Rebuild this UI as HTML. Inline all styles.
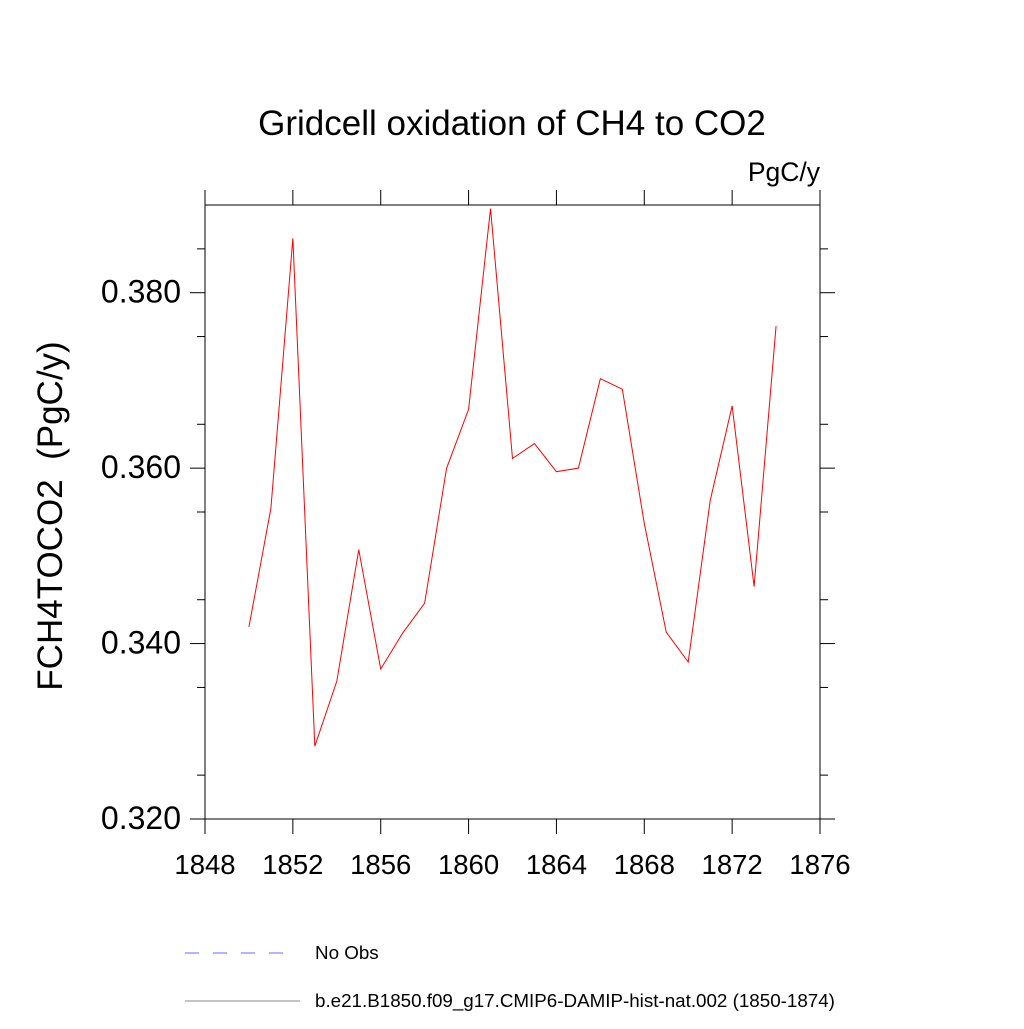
<!DOCTYPE html>
<html><head><meta charset="utf-8"><style>
body{margin:0;background:#fff}
svg text{font-family:"Liberation Sans",sans-serif;fill:#000}
</style></head><body>
<svg width="1024" height="1024" viewBox="0 0 1024 1024">
<text x="512" y="135" font-size="35" text-anchor="middle">Gridcell oxidation of CH4 to CO2</text>
<text x="820" y="181" font-size="26.5" text-anchor="end">PgC/y</text>
<text transform="translate(62,516) rotate(-90)" font-size="35" text-anchor="middle">FCH4TOCO2&#160;&#160;(PgC/y)</text>
<rect x="205" y="205" width="615" height="614" fill="none" stroke="#000" stroke-width="1"/>
<g id="axes"></g>
<polyline id="series" fill="none" stroke="#ff0000" stroke-width="1"/>
<line x1="185" y1="953" x2="292" y2="953" stroke="#6b6bff" stroke-dasharray="14,14"/>
<text x="315" y="959" font-size="18.8">No Obs</text>
<line x1="185" y1="1001" x2="300" y2="1001" stroke="#888"/>
<text x="315" y="1007" font-size="18.8">b.e21.B1850.f09_g17.CMIP6-DAMIP-hist-nat.002 (1850-1874)</text>
</svg>
<script>
const years=[1850,1851,1852,1853,1854,1855,1856,1857,1858,1859,1860,1861,1862,1863,1864,1865,1866,1867,1868,1869,1870,1871,1872,1873,1874];
const values=[0.3419,0.3554,0.3862,0.3283,0.3357,0.3507,0.3371,0.3412,0.3446,0.3600,0.3667,0.3896,0.3611,0.3628,0.3596,0.3600,0.3702,0.3690,0.3537,0.3413,0.3379,0.3563,0.3671,0.3465,0.3762];
const xTicks=[1848,1852,1856,1860,1864,1868,1872,1876];
const yTicks=[0.320,0.340,0.360,0.380];
const yTickLabels=["0.320","0.340","0.360","0.380"];
const X=v=>205+(v-1848)/28*615;
const Y=v=>819-(v-0.32)/0.07*614;
const NS="http://www.w3.org/2000/svg";
const g=document.getElementById('axes');
function line(x1,y1,x2,y2,name){const l=document.createElementNS(NS,'line');
l.setAttribute('x1',x1);l.setAttribute('y1',y1);l.setAttribute('x2',x2);l.setAttribute('y2',y2);l.setAttribute('stroke','#000');


g.appendChild(l);}
function text(x,y,s,anchor,size,name){const t=document.createElementNS(NS,'text');
t.setAttribute('x',x);t.setAttribute('y',y);t.setAttribute('font-size',size);t.setAttribute('text-anchor',anchor);t.textContent=s;


g.appendChild(t);}
xTicks.forEach(v=>{const x=X(v);line(x,819,x,834,'x-tick');line(x,205,x,190,'x-tick-top');text(x,874,String(v),'middle','27.5','x-tick-label');});
yTicks.forEach((v,i)=>{const y=Y(v);line(205,y,190,y,'y-tick');line(820,y,835,y,'y-tick-right');text(181,y+10,yTickLabels[i],'end','32','y-tick-label');});
for(let v=0.325;v<0.39;v+=0.01){const y=Y(v);line(205,y,197,y,'y-minor-tick');line(820,y,828,y,'y-minor-tick-right');}
document.getElementById('series').setAttribute('points',years.map((yr,i)=>X(yr)+','+Y(values[i])).join(' '));
</script>
</body></html>
